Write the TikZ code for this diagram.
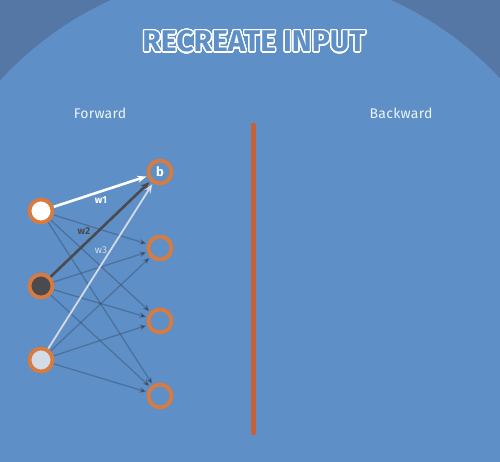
\documentclass[tikz,border=0pt]{standalone}
\usepackage{fontspec}
\setmainfont{Fira Sans}
\usepackage{contour}
\contourlength{1.3pt}
\contournumber{32}
\usetikzlibrary{arrows.meta}
\definecolor{bgmain}{HTML}{5E8FC7}
\definecolor{bgdark}{HTML}{5577A6}
\definecolor{ring}{HTML}{D97B3F}
\definecolor{divider}{HTML}{C5623A}
\definecolor{faint}{HTML}{34465E}
\definecolor{darkn}{HTML}{4A4A4F}
\definecolor{lightn}{HTML}{D3DBE6}
\definecolor{labelc}{HTML}{EEF4FB}
\begin{document}
\begin{tikzpicture}[x=1pt,y=-1pt,
  neuron/.style={circle, draw=ring, line width=3.8pt, minimum size=23pt, inner sep=0pt},
  edge/.style={-{Stealth[length=7pt,width=6pt]}, draw=faint, draw opacity=0.4, line width=1.3pt, shorten >=1pt},
  hedge/.style={-{Stealth[length=9pt,width=7pt]}, line width=#1, shorten >=1pt},
  heading/.style={text=labelc, font=\fontsize{14}{16}\selectfont\addfontfeatures{LetterSpace=2}},
  wlabel/.style={font=\fontsize{10}{12}\selectfont\bfseries}]
\useasboundingbox (0,0) rectangle (500,462);
\begin{scope}
  \clip (0,0) rectangle (500,462);
  \fill[bgdark] (0,0) rectangle (500,462);
  \fill[bgmain] (251,310) circle (340pt);
\end{scope}

\node[font=\fontsize{30}{34}\selectfont\bfseries] (title) at (254,42) {\contour{white}{\textcolor{bgmain}{RECREATE INPUT}}};
\node[heading] (fwd) at (100,113) {Forward};
\node[heading] (bwd) at (401,113) {Backward};

\coordinate (divtop) at (253,125);
\coordinate (divbot) at (253,433);
\draw[divider, line width=5pt, line cap=round] (divtop) -- (divbot);

\node[neuron, fill=white] (i1) at (41,211) {};
\node[neuron, fill=darkn] (i2) at (41,286) {};
\node[neuron, fill=lightn] (i3) at (41,360) {};
\node[neuron, text=white, font=\fontsize{13}{13}\selectfont\bfseries] (o1) at (160,172) {b};
\node[neuron] (o2) at (160,248) {};
\node[neuron] (o3) at (160,321) {};
\node[neuron] (o4) at (160,396) {};

\foreach \i in {1,2,3}{
  \foreach \o in {2,3,4}{
    \draw[edge] (i\i) -- (o\o);
  }
}
\draw[hedge=2.6pt, draw=white] (i1) -- (o1);
\draw[hedge=2.6pt, draw=darkn] (i2) -- (o1);
\draw[hedge=1.8pt, draw=lightn] (i3) -- (o1);

\node[wlabel, text=white] (w1) at (101,200) {w1};
\node[wlabel, text=darkn] (w2) at (84,231) {w2};
\node[wlabel, text=lightn, font=\fontsize{10}{12}\selectfont] (w3) at (101,250) {w3};
\end{tikzpicture}
\end{document}
